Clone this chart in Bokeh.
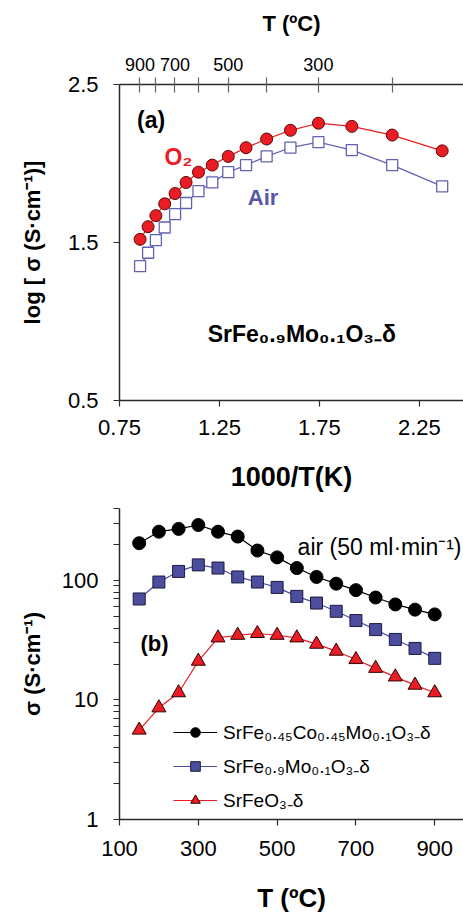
from bokeh.plotting import figure
from bokeh.models import (LinearAxis, FixedTicker, Label, Range1d, Legend, LegendItem,
                          PrintfTickFormatter)
from bokeh.layouts import column
from bokeh.embed import file_html
from bokeh.resources import INLINE

FONT = "Liberation Sans"

# ---------------- Panel (a): log sigma vs 1000/T ----------------
inv_T = [0.853, 0.893, 0.932, 0.976, 1.028, 1.083, 1.145, 1.214,
         1.294, 1.383, 1.486, 1.605, 1.745, 1.912, 2.114, 2.364]
log_sigma_o2 = [1.52, 1.60, 1.67, 1.745, 1.81, 1.88, 1.945, 1.99,
                2.045, 2.10, 2.155, 2.21, 2.255, 2.235, 2.18, 2.08]
log_sigma_air = [1.35, 1.435, 1.515, 1.595, 1.68, 1.75, 1.825, 1.88,
                 1.945, 1.99, 2.045, 2.10, 2.135, 2.085, 1.99, 1.855]
top_T_major = [900, 700, 500, 300]
top_T_minor = [800, 600, 400, 200]
a_xticks = [0.75, 1.25, 1.75, 2.25]
a_yticks = [0.5, 1.5, 2.5]

# ---------------- Panel (b): sigma vs T ----------------
T_C = [150, 200, 250, 300, 350, 400, 450, 500,
       550, 600, 650, 700, 750, 800, 850, 900]
sigma_co = [205, 256, 270, 291, 256, 233, 178, 156,
            127, 107, 94, 83, 72, 63, 57, 52]
sigma_mo = [70, 97, 119, 135, 127, 107, 97, 87.5,
            73.6, 64.7, 55.2, 46.2, 38.8, 32.1, 27.0, 22.3]
sigma_fe = [5.6, 8.6, 11.5, 21.1, 33.1, 34.8, 36.0, 34.8,
            33.1, 29.3, 25.6, 21.8, 18.4, 15.6, 13.3, 11.5]
b_xticks = [100, 300, 500, 700, 900]
b_yticks = [1, 10, 100]
b_yminor = [2, 3, 4, 5, 6, 7, 8, 9, 20, 30, 40, 50, 60, 70, 80, 90, 200, 300, 400]
legend_labels = ["SrFe₀.₄₅Co₀.₄₅Mo₀.₁O₃₋δ", "SrFe₀.₉Mo₀.₁O₃₋δ", "SrFeO₃₋δ"]

RED = "#ec1c24"
BLUE_A = "#6262b2"
BLUE_B = "#4d4d9e"
AXC = "#2a2a2a"


def style_axis(ax, label_size="22px"):
    ax.axis_line_color = AXC
    ax.axis_line_width = 1.5
    ax.major_tick_line_color = AXC
    ax.major_tick_line_width = 1.2
    ax.minor_tick_line_color = None
    ax.major_label_text_font = FONT
    ax.major_label_text_font_size = label_size
    ax.major_label_text_color = "black"
    ax.axis_label_text_font = FONT
    ax.axis_label_text_font_style = "bold"
    ax.axis_label_text_color = "black"


p1 = figure(width=463, height=495, x_range=Range1d(0.75, 2.4706), y_range=Range1d(0.5, 2.5),
            output_backend="svg", toolbar_location=None,
            min_border_left=112, min_border_right=0, min_border_top=84, min_border_bottom=95)
p1.outline_line_color = None
p1.xgrid.visible = False
p1.ygrid.visible = False
p1.background_fill_color = "white"
p1.border_fill_color = "white"

xa = p1.xaxis[0]
style_axis(xa)
xa.ticker = FixedTicker(ticks=a_xticks)
xa.major_tick_in = 0
xa.major_tick_out = 6
xa.major_label_standoff = 13
xa.axis_label = "1000/T(K)"
xa.axis_label_text_font_size = "27px"
xa.axis_label_standoff = 24

ya = p1.yaxis[0]
style_axis(ya)
ya.ticker = FixedTicker(ticks=a_yticks)
ya.major_tick_in = 0
ya.major_tick_out = 6
ya.major_label_standoff = 15
ya.axis_label = "log [ σ (S·cm⁻¹)]"
ya.axis_label_text_font_size = "22px"
ya.axis_label_standoff = 20

top_major_pos = [1000.0 / (t + 273.15) for t in top_T_major]
top_minor_pos = [1000.0 / (t + 273.15) for t in top_T_minor]
ta = LinearAxis(ticker=FixedTicker(ticks=top_major_pos, minor_ticks=top_minor_pos))
style_axis(ta, "18px")
ta.major_label_overrides = {pos: str(t) for pos, t in zip(top_major_pos, top_T_major)}
TICKC = "#6a6250"
ta.major_tick_line_color = TICKC
ta.minor_tick_line_color = TICKC
ta.major_tick_line_width = 1.2
ta.minor_tick_line_width = 1.2
ta.major_tick_in = 8
ta.major_tick_out = 7
ta.minor_tick_in = 8
ta.minor_tick_out = 7
ta.major_label_standoff = 7
ta.axis_label = "T (ºC)"
ta.axis_label_text_font_size = "22px"
ta.axis_label_standoff = 19
p1.add_layout(ta, "above")

p1.line(inv_T, log_sigma_o2, line_color=RED, line_width=1.2)
p1.scatter(inv_T, log_sigma_o2, marker="circle", size=12, fill_color=RED,
           line_color="#5a0a0a", line_width=1)
p1.line(inv_T, log_sigma_air, line_color=BLUE_A, line_width=1.2)
p1.scatter(inv_T, log_sigma_air, marker="square", size=11, fill_color="white",
           line_color=BLUE_A, line_width=1.3)

p1.add_layout(Label(x=0.838, y=2.278, text="(a)", text_font=FONT, text_font_size="23px",
                    text_font_style="bold", text_baseline="middle", text_color="black"))
p1.add_layout(Label(x=0.975, y=2.044, text="O₂", text_font=FONT, text_font_size="23px",
                    text_font_style="bold", text_baseline="middle", text_color=RED))
p1.add_layout(Label(x=1.392, y=1.785, text="Air", text_font=FONT, text_font_size="22px",
                    text_font_style="bold", text_baseline="middle", text_color="#5757a8"))
p1.add_layout(Label(x=1.191, y=0.924, text="SrFe₀.₉Mo₀.₁O₃₋δ", text_font=FONT,
                    text_font_size="23px", text_font_style="bold", text_baseline="middle",
                    text_color="black"))

# ---------------- bottom figure ----------------
p2 = figure(width=463, height=422, x_range=Range1d(100, 973), y_range=Range1d(1, 400),
            y_axis_type="log", output_backend="svg", toolbar_location=None,
            min_border_left=119, min_border_right=0, min_border_top=13, min_border_bottom=98)
p2.outline_line_color = None
p2.xgrid.visible = False
p2.ygrid.visible = False
p2.background_fill_color = "white"
p2.border_fill_color = "white"

xb = p2.xaxis[0]
style_axis(xb)
xb.ticker = FixedTicker(ticks=b_xticks)
xb.major_tick_in = 0
xb.major_tick_out = 6
xb.major_label_standoff = 15
xb.axis_label = "T (ºC)"
xb.axis_label_text_font_size = "26px"
xb.axis_label_standoff = 24

yb = p2.yaxis[0]
style_axis(yb)
yb.ticker = FixedTicker(ticks=b_yticks, minor_ticks=b_yminor)
yb.formatter = PrintfTickFormatter(format="%d")
yb.major_tick_in = 0
yb.major_tick_out = 6
yb.minor_tick_line_color = AXC
yb.minor_tick_line_width = 1.2
yb.minor_tick_in = 0
yb.minor_tick_out = 6
yb.major_label_standoff = 15
yb.axis_label = "σ (S·cm⁻¹)"
yb.axis_label_text_font_size = "22px"
yb.axis_label_standoff = 14

l1 = p2.line(T_C, sigma_co, line_color="black", line_width=1.2)
s1 = p2.scatter(T_C, sigma_co, marker="circle", size=13, fill_color="black",
                line_color="black")
l2 = p2.line(T_C, sigma_mo, line_color=BLUE_B, line_width=1.2)
s2 = p2.scatter(T_C, sigma_mo, marker="square", size=12, fill_color=BLUE_B,
                line_color="#1a1a40", line_width=1)
l3 = p2.line(T_C, sigma_fe, line_color=RED, line_width=1.2)
s3 = p2.scatter(T_C, sigma_fe, marker="triangle", size=14, fill_color=RED,
                line_color="#300000", line_width=1)

legend = Legend(items=[LegendItem(label=legend_labels[0], renderers=[l1, s1]),
                       LegendItem(label=legend_labels[1], renderers=[l2, s2]),
                       LegendItem(label=legend_labels[2], renderers=[l3, s3])],
                location=(54, 6))
legend.label_text_font = FONT
legend.label_text_font_size = "19px"
legend.label_text_color = "black"
legend.glyph_width = 44
legend.glyph_height = 24
legend.label_height = 24
legend.label_standoff = 6
legend.spacing = 8
legend.padding = 0
legend.margin = 0
legend.border_line_color = None
legend.background_fill_alpha = 0
p2.add_layout(legend)

p2.add_layout(Label(x=552, y=192, text="air (50 ml·min⁻¹)", text_font=FONT,
                    text_font_size="23px", text_baseline="middle", text_color="black"))
p2.add_layout(Label(x=153, y=29.9, text="(b)", text_font=FONT, text_font_size="22px",
                    text_font_style="bold", text_baseline="middle", text_color="black"))

layout = column(p1, p2, spacing=0)
open("out.html", "w").write(file_html(layout, INLINE))
